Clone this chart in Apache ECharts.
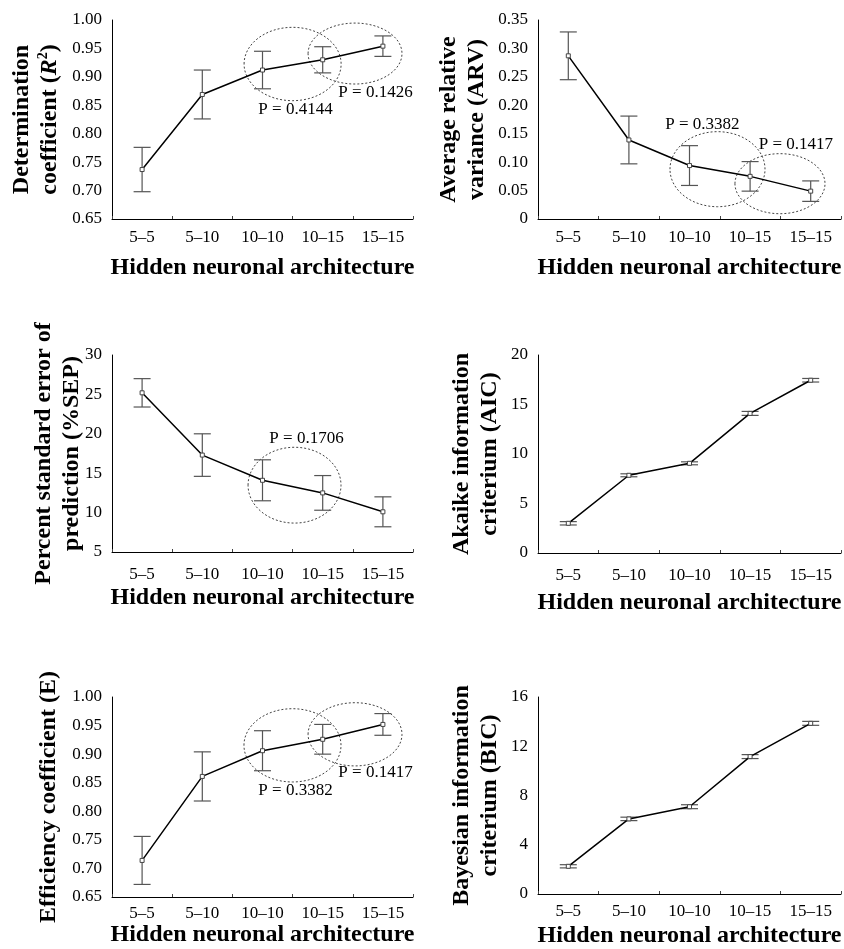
<!DOCTYPE html>
<html>
<head>
<meta charset="utf-8">
<script src="https://cdn.jsdelivr.net/npm/echarts@6/dist/echarts.min.js"></script>
<style>
  html, body { margin: 0; padding: 0; background: #fff; }
  #chart { width: 844px; height: 949px; }
</style>
</head>
<body>
<div id="chart"></div>
<script>
const FONT = "'Liberation Serif', 'DejaVu Serif', serif";
const INK = "#000";
const BAR = "#555";

const CATS = ["5–5", "5–10", "10–10", "10–15", "15–15"];
const X_TITLE = "Hidden neuronal architecture";

// means and half-width of the error bars
const R2_MEAN = [0.737, 0.869, 0.912, 0.930, 0.954];
const R2_ERR = [0.039, 0.043, 0.033, 0.023, 0.018];
const ARV_MEAN = [0.287, 0.139, 0.094, 0.075, 0.049];
const ARV_ERR = [0.042, 0.042, 0.035, 0.026, 0.018];
const SEP_MEAN = [25.2, 17.3, 14.1, 12.5, 10.1];
const SEP_ERR = [1.8, 2.7, 2.6, 2.2, 1.9];
const AIC_MEAN = [3.0, 7.85, 9.06, 14.1, 17.45];
const AIC_ERR = [0.17, 0.15, 0.15, 0.2, 0.18];
const E_MEAN = [0.714, 0.861, 0.906, 0.926, 0.952];
const E_ERR = [0.042, 0.043, 0.035, 0.026, 0.019];
const BIC_MEAN = [2.25, 6.1, 7.09, 11.16, 13.86];
const BIC_ERR = [0.13, 0.14, 0.16, 0.16, 0.16];

// dotted rings: [center (category units), center (value), radius x (categories), radius y (value)]
const R2_RINGS = [[2.5, 0.9226, 0.806, 0.0645], [3.537, 0.941, 0.78, 0.0536]];
const R2_PVALS = [[2.548, 0.842, "P = 0.4144"], [3.877, 0.873, "P = 0.1426"]];
const ARV_RINGS = [[2.462, 0.0876, 0.784, 0.066], [3.493, 0.0621, 0.743, 0.0528]];
const ARV_PVALS = [[2.214, 0.166, "P = 0.3382"], [3.757, 0.1307, "P = 0.1417"]];
const SEP_RINGS = [[2.532, 13.48, 0.772, 4.81]];
const SEP_PVALS = [[2.731, 19.43, "P = 0.1706"]];
const E_RINGS = [[2.498, 0.9154, 0.806, 0.0641], [3.537, 0.9347, 0.78, 0.0553]];
const E_PVALS = [[2.548, 0.8355, "P = 0.3382"], [3.877, 0.867, "P = 0.1417"]];

const panels = [
  { name: "Determination\ncoefficient ({i|R}{sup|2})", nameGap: 48,
    min: 0.65, max: 1.0, step: 0.05, dec: 2,
    mean: R2_MEAN, err: R2_ERR, rings: R2_RINGS, pvals: R2_PVALS,
    grid: { left: 112, top: 20, width: 301, height: 199 }, labelGap: 10, titleGap: 37 },
  { name: "Average relative\nvariance (ARV)", nameGap: 47,
    min: 0, max: 0.35, step: 0.05, dec: 2,
    mean: ARV_MEAN, err: ARV_ERR, rings: ARV_RINGS, pvals: ARV_PVALS,
    grid: { left: 538, top: 20, width: 303, height: 199 }, labelGap: 10, titleGap: 37 },
  { name: "Percent standard error of\nprediction (%SEP)", nameGap: 26,
    min: 5, max: 30, step: 5, dec: 0,
    mean: SEP_MEAN, err: SEP_ERR, rings: SEP_RINGS, pvals: SEP_PVALS,
    grid: { left: 112, top: 355, width: 301, height: 197 }, labelGap: 14, titleGap: 34 },
  { name: "Akaike information\ncriterium (AIC)", nameGap: 34,
    min: 0, max: 20, step: 5, dec: 0,
    mean: AIC_MEAN, err: AIC_ERR, rings: [], pvals: [],
    grid: { left: 538, top: 355, width: 303, height: 198 }, labelGap: 14, titleGap: 38 },
  { name: "Efficiency coefficient (E)", nameGap: 49,
    min: 0.65, max: 1.0, step: 0.05, dec: 2,
    mean: E_MEAN, err: E_ERR, rings: E_RINGS, pvals: E_PVALS,
    grid: { left: 112, top: 697, width: 301, height: 200 }, labelGap: 8, titleGap: 26 },
  { name: "Bayesian information\ncriterium (BIC)", nameGap: 34,
    min: 0, max: 16, step: 4, dec: 0,
    mean: BIC_MEAN, err: BIC_ERR, rings: [], pvals: [],
    grid: { left: 538, top: 697, width: 303, height: 199 }, labelGap: 9, titleGap: 30 }
];

const grid = [], xAxis = [], yAxis = [], series = [];

panels.forEach((p, i) => {
  grid.push(p.grid);
  xAxis.push({
    type: "category", gridIndex: i, data: CATS, boundaryGap: true,
    name: X_TITLE, nameLocation: "middle", nameGap: p.titleGap, nameMoveOverlap: false,
    nameTextStyle: { fontFamily: FONT, fontSize: 24, fontWeight: "bold", color: INK },
    axisLine: { onZero: false, lineStyle: { color: INK, width: 1 } },
    axisTick: { show: true, inside: true, length: 3, lineStyle: { color: "#444" } },
    axisLabel: { fontFamily: FONT, fontSize: 17, color: INK, margin: p.labelGap },
    splitLine: { show: false }
  });
  // hidden linear twin of the category axis, used to place the rings and P labels
  xAxis.push({ type: "value", gridIndex: i, min: -0.5, max: 4.5, show: false, splitLine: { show: false } });
  yAxis.push({
    type: "value", gridIndex: i, min: p.min, max: p.max, interval: p.step,
    name: p.name, nameLocation: "middle", nameRotate: 90, nameGap: p.nameGap, nameMoveOverlap: false,
    nameTextStyle: {
      fontFamily: FONT, fontSize: 24, fontWeight: "bold", color: INK, lineHeight: 28,
      rich: {
        i: { fontFamily: FONT, fontSize: 24, fontWeight: "bold", fontStyle: "italic", color: INK, lineHeight: 28 },
        sup: { fontFamily: FONT, fontSize: 14, fontWeight: "bold", color: INK, verticalAlign: "top", lineHeight: 28 }
      }
    },
    axisLine: { show: true, onZero: false, lineStyle: { color: INK, width: 1 } },
    axisTick: { show: false },
    axisLabel: {
      fontFamily: FONT, fontSize: 17, color: INK, margin: 10,
      formatter: (v) => (Math.abs(v) < 1e-9 ? "0" : v.toFixed(p.dec))
    },
    splitLine: { show: false }
  });

  const catX = 2 * i, linX = 2 * i + 1;

  series.push({
    type: "custom", xAxisIndex: catX, yAxisIndex: i, z: 2,
    data: p.mean.map((m, k) => [k, m - p.err[k], m + p.err[k]]),
    encode: { x: 0, y: [1, 2] },
    renderItem: (params, api) => {
      const lo = api.coord([api.value(0), api.value(1)]);
      const hi = api.coord([api.value(0), api.value(2)]);
      const w = 8.5;
      const style = { stroke: BAR, lineWidth: 1.2 };
      return {
        type: "group",
        children: [
          { type: "line", shape: { x1: lo[0], y1: lo[1], x2: hi[0], y2: hi[1] }, style },
          { type: "line", shape: { x1: lo[0] - w, y1: lo[1], x2: lo[0] + w, y2: lo[1] }, style },
          { type: "line", shape: { x1: hi[0] - w, y1: hi[1], x2: hi[0] + w, y2: hi[1] }, style }
        ]
      };
    }
  });

  series.push({
    type: "line", xAxisIndex: catX, yAxisIndex: i, z: 3,
    data: p.mean,
    symbol: "rect", symbolSize: 4,
    itemStyle: { color: "#fff", borderColor: "#444", borderWidth: 1 },
    lineStyle: { color: INK, width: 1.5 }
  });

  if (p.rings.length) {
    series.push({
      type: "custom", xAxisIndex: linX, yAxisIndex: i, z: 1, clip: false,
      data: p.rings,
      encode: { x: 0, y: 1 },
      renderItem: (params, api) => {
        const c = api.coord([api.value(0), api.value(1)]);
        const rx = api.size([api.value(2), 0])[0];
        const ry = api.size([0, api.value(3)])[1];
        return {
          type: "ellipse",
          shape: { cx: c[0], cy: c[1], rx, ry },
          style: { fill: null, stroke: "#444", lineWidth: 1, lineDash: [2, 2] }
        };
      }
    });
  }

  if (p.pvals.length) {
    series.push({
      type: "custom", xAxisIndex: linX, yAxisIndex: i, z: 4, clip: false,
      data: p.pvals.map((d) => [d[0], d[1]]),
      encode: { x: 0, y: 1 },
      renderItem: (params, api) => {
        const c = api.coord([api.value(0), api.value(1)]);
        return {
          type: "text", x: c[0], y: c[1],
          style: {
            text: p.pvals[params.dataIndex][2],
            font: "17px " + FONT, fill: INK, align: "center", verticalAlign: "middle"
          }
        };
      }
    });
  }
});

const chart = echarts.init(document.getElementById("chart"), null, { renderer: "canvas" });
chart.setOption({
  backgroundColor: "#fff",
  animation: false,
  grid, xAxis, yAxis, series
});
</script>
</body>
</html>
